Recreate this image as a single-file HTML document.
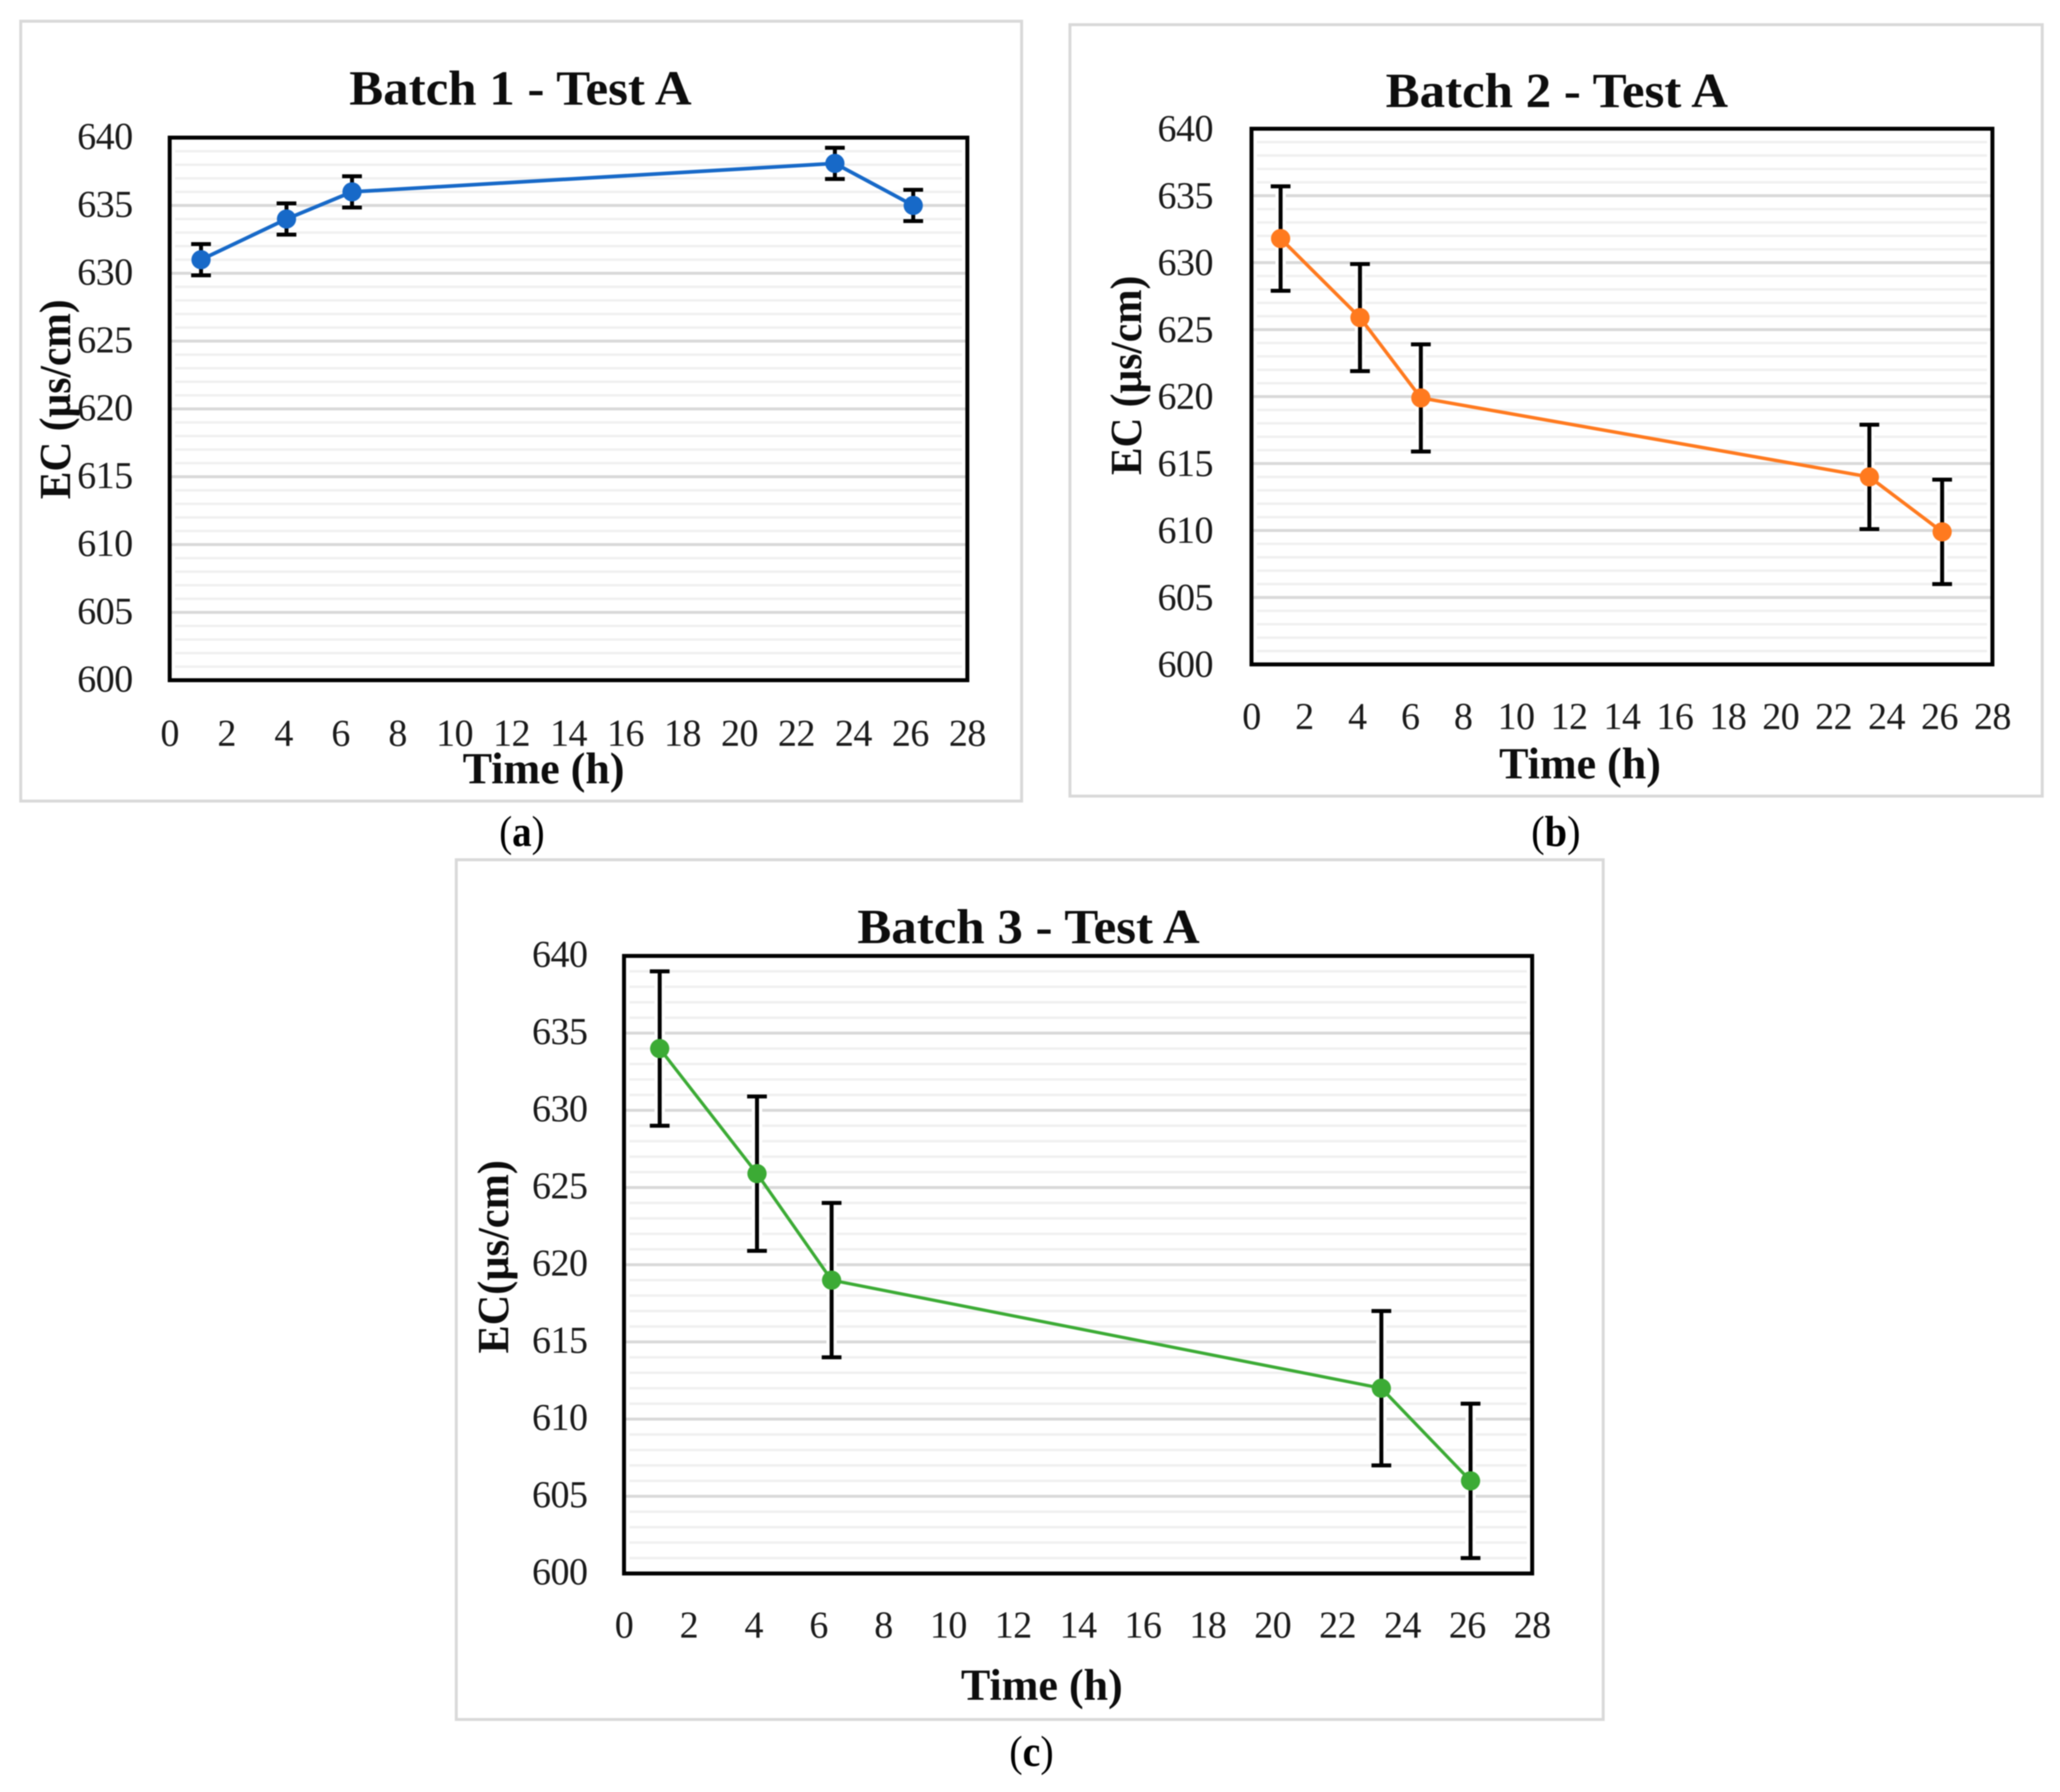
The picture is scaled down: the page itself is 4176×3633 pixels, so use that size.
<!DOCTYPE html>
<html lang="en">
<head>
<meta charset="utf-8">
<title>EC over time for Batches 1 to 3 - Test A</title>
<style>
  html, body { margin: 0; padding: 0; background: #ffffff; }
  #figure { display: block; filter: blur(1px); font-family: "Liberation Serif", serif; }
  .panel-border { fill: #ffffff; stroke: #d9d9d9; stroke-width: 6; }
  .chart-title { font-size: 100px; font-weight: bold; fill: #0d0d0d; }
  .axis-title { font-size: 90px; font-weight: bold; fill: #0d0d0d; }
  .caption { font-size: 88px; fill: #000000; }
  .caption tspan { font-weight: bold; }
  .tick { font-size: 77px; fill: #1a1a1a; letter-spacing: -1px; }
</style>
</head>
<body>
<svg id="figure" xmlns="http://www.w3.org/2000/svg" width="4176" height="3633" viewBox="0 0 4176 3633">
  <rect x="0" y="0" width="4176" height="3633" fill="#ffffff"/>

  <g>
    <rect class="panel-border" x="42" y="43" width="2029" height="1581"/>
    <g id="plot-a"></g>
    <text class="chart-title" x="708" y="212" textLength="694" lengthAdjust="spacingAndGlyphs">Batch 1 - Test A</text>
    <text class="axis-title" x="142" y="1012" transform="rotate(-90 142 1012)" textLength="405" lengthAdjust="spacingAndGlyphs">EC (µs/cm)</text>
    <text class="axis-title" x="938" y="1588" textLength="328" lengthAdjust="spacingAndGlyphs">Time (h)</text>
  </g>
  <text class="caption" x="1012" y="1715" textLength="92" lengthAdjust="spacingAndGlyphs">(<tspan>a</tspan>)</text>

  <g>
    <rect class="panel-border" x="2169" y="50" width="1971" height="1564"/>
    <g id="plot-b"></g>
    <text class="chart-title" x="2809" y="217" textLength="694" lengthAdjust="spacingAndGlyphs">Batch 2 - Test A</text>
    <text class="axis-title" x="2313" y="963" transform="rotate(-90 2313 963)" textLength="404" lengthAdjust="spacingAndGlyphs">EC (µs/cm)</text>
    <text class="axis-title" x="3039" y="1578" textLength="328" lengthAdjust="spacingAndGlyphs">Time (h)</text>
  </g>
  <text class="caption" x="3104" y="1715" textLength="100" lengthAdjust="spacingAndGlyphs">(<tspan>b</tspan>)</text>

  <g>
    <rect class="panel-border" x="925" y="1743" width="2325" height="1743"/>
    <g id="plot-c"></g>
    <text class="chart-title" x="1738" y="1912" textLength="694" lengthAdjust="spacingAndGlyphs">Batch 3 - Test A</text>
    <text class="axis-title" x="1030" y="2744" transform="rotate(-90 1030 2744)" textLength="392" lengthAdjust="spacingAndGlyphs">EC(µs/cm)</text>
    <text class="axis-title" x="1948" y="3446" textLength="328" lengthAdjust="spacingAndGlyphs">Time (h)</text>
  </g>
  <text class="caption" x="2046" y="3580" textLength="90" lengthAdjust="spacingAndGlyphs">(<tspan>c</tspan>)</text>
</svg>

<script>
// ---- chart data ----
const sampleTimes = [1.1, 4.1, 6.4, 23.35, 26.1];
const batch1Values = [631, 634, 636, 638.1, 635];
const batch1Errors = [1.15, 1.15, 1.15, 1.15, 1.15];
const batch2Values = [631.8, 625.9, 619.9, 614, 609.9];
const batch2Errors = [3.9, 4, 4, 3.9, 3.9];
const batch3Values = [634, 625.9, 619, 612, 606];
const batch3Errors = [5, 5, 5, 5, 5];
const yTickLabels = [600, 605, 610, 615, 620, 625, 630, 635, 640];
const xTickLabels = [0, 2, 4, 6, 8, 10, 12, 14, 16, 18, 20, 22, 24, 26, 28];
const minorStep = 1;

// ---- layout of each panel (not data) ----
const layoutA = { plot: 'plot-a', left: 344, right: 1961, top: 279, bottom: 1379, yLabelRight: 269, yLabelDrop: 23, xLabelBase: 1512, color: '#1769c8', lineWidth: 7.5, radius: 19.5, capHalf: 20 };
const layoutB = { plot: 'plot-b', left: 2537, right: 4039, top: 261, bottom: 1347, yLabelRight: 2459, yLabelDrop: 25, xLabelBase: 1478, color: '#ff7a1f', lineWidth: 7, radius: 19.5, capHalf: 20 };
const layoutC = { plot: 'plot-c', left: 1265, right: 3106, top: 1938, bottom: 3190, yLabelRight: 1191, yLabelDrop: 22, xLabelBase: 3320, color: '#3cab35', lineWidth: 6.5, radius: 19.5, capHalf: 20 };

const NS = 'http://www.w3.org/2000/svg';
const X_MIN = 0, X_MAX = 28, Y_MIN = 600, Y_MAX = 640;

function make(parent, tag, props) {
  const el = document.createElementNS(NS, tag);
  for (const key in props) el.setAttribute(key, props[key]);
  parent.appendChild(el);
  return el;
}

function drawChart(layout, times, values, errors, prefix) {
  const root = document.getElementById(layout.plot);
  const xScale = v => layout.left + (v - X_MIN) / (X_MAX - X_MIN) * (layout.right - layout.left);
  const yScale = v => layout.bottom - (v - Y_MIN) / (Y_MAX - Y_MIN) * (layout.bottom - layout.top);

  // gridlines
  for (let v = Y_MIN + minorStep; v < Y_MAX; v += minorStep) {
    const major = v % 5 === 0;
    const grid = make(root, 'line', {
      x1: layout.left + (major ? 0 : 11), x2: layout.right - (major ? 0 : 11),
      y1: yScale(v), y2: yScale(v),
      stroke: major ? '#d9d9d9' : '#f0f0f0', 'stroke-width': major ? 6 : 5
    });
    
    
  }

  // white halos behind the error bars and markers
  times.forEach((t, i) => {
    const cx = xScale(t), up = yScale(values[i] + errors[i]), down = yScale(values[i] - errors[i]);
    const halo = make(root, 'path', {
      d: 'M' + cx + ' ' + up + 'V' + down +
         'M' + (cx - layout.capHalf) + ' ' + up + 'H' + (cx + layout.capHalf) +
         'M' + (cx - layout.capHalf) + ' ' + down + 'H' + (cx + layout.capHalf),
      fill: 'none', stroke: '#ffffff', 'stroke-width': 21
    });
    
    
  });

  // error bars
  times.forEach((t, i) => {
    const cx = xScale(t), up = yScale(values[i] + errors[i]), down = yScale(values[i] - errors[i]);
    const bar = make(root, 'path', {
      d: 'M' + cx + ' ' + up + 'V' + down +
         'M' + (cx - layout.capHalf) + ' ' + up + 'H' + (cx + layout.capHalf) +
         'M' + (cx - layout.capHalf) + ' ' + down + 'H' + (cx + layout.capHalf),
      fill: 'none', stroke: '#000000', 'stroke-width': 8
    });
    
    
  });

  // series line
  const line = make(root, 'polyline', {
    points: times.map((t, i) => xScale(t) + ',' + yScale(values[i])).join(' '),
    fill: 'none', stroke: layout.color, 'stroke-width': layout.lineWidth
  });
  
  

  // markers
  times.forEach((t, i) => {
    const dot = make(root, 'circle', { cx: xScale(t), cy: yScale(values[i]), r: layout.radius, fill: layout.color });
    
    
  });

  // plot frame
  const frame = make(root, 'rect', {
    x: layout.left, y: layout.top,
    width: layout.right - layout.left, height: layout.bottom - layout.top,
    fill: 'none', stroke: '#000000', 'stroke-width': 8
  });
  
  

  // y tick labels
  yTickLabels.forEach(v => {
    const label = make(root, 'text', { class: 'tick', x: layout.yLabelRight, y: yScale(v) + layout.yLabelDrop, 'text-anchor': 'end' });
    label.textContent = v;
    
    
  });

  // x tick labels
  xTickLabels.forEach(v => {
    const label = make(root, 'text', { class: 'tick', x: xScale(v), y: layout.xLabelBase, 'text-anchor': 'middle' });
    label.textContent = v;
    
    
  });
}

drawChart(layoutA, sampleTimes, batch1Values, batch1Errors, 'panel-a');
drawChart(layoutB, sampleTimes, batch2Values, batch2Errors, 'panel-b');
drawChart(layoutC, sampleTimes, batch3Values, batch3Errors, 'panel-c');
</script>
</body>
</html>
